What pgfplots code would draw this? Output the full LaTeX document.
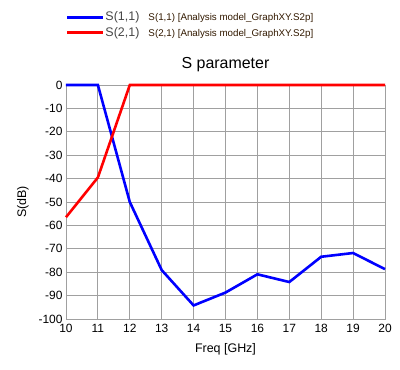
\documentclass[border=0pt]{standalone}
\usepackage{pgfplots}
\pgfplotsset{compat=1.18}
\usepackage{fontspec}
\setmainfont{Liberation Sans}
\definecolor{gridgray}{RGB}{160,160,160}
\definecolor{legtxt}{RGB}{70,70,70}
\definecolor{filetxt}{RGB}{50,25,0}
\begin{document}
\begin{tikzpicture}
\begin{axis}[
  name=ax,
  scale only axis,
  width=319bp, height=234bp,
  xmin=10, xmax=20, ymin=-100, ymax=0,
  xtick={10,...,20},
  ytick={-100,-90,...,0},
  grid=major,
  major grid style={gridgray, line width=0.9bp},
  axis line style={gridgray, line width=0.9bp},
  major tick length=0pt,
  tick label style={font=\fontsize{12}{12}\selectfont, text=black},
  /pgf/number format/assume math mode=true,
  xticklabel style={yshift=-2bp},
  yticklabel style={xshift=0bp},
  xlabel={Freq [GHz]},
  ylabel={S(dB)},
  label style={font=\fontsize{12.5}{13}\selectfont, text=black},
  xlabel style={yshift=-4bp},
  ylabel style={yshift=3bp},
  title={S parameter},
  title style={font=\fontsize{16}{16}\selectfont, yshift=4bp},
  legend style={at={(0,1.315)}, anchor=north west, draw=none, fill=none,
    inner sep=0pt, outer sep=0pt, row sep=4bp,
    nodes={inner sep=0.5bp, anchor=west},
    font=\fontsize{12.5}{12.5}\selectfont},
  legend cell align=left,
  legend image code/.code={\draw[#1, line width=3bp] (0bp,0bp) -- (36bp,0bp);},
  clip=false,
]
\addplot[blue, line width=2.6bp] coordinates {
  (10,0) (11,0) (12,-50) (13,-79.1) (14,-94.2) (15,-88.7) (16,-80.9)
  (17,-84.2) (18,-73.4) (19,-71.8) (20,-78.7)
};
\addlegendentry{\makebox[43bp][l]{\color{legtxt}S(1,1)}{\color{filetxt}\fontsize{9.8}{9.8}\selectfont S(1,1) [Analysis model\_GraphXY.S2p]}}
\addplot[red, line width=2.6bp] coordinates {
  (10,-56.5) (11,-39.5) (12,0) (13,0) (14,0) (15,0) (16,0)
  (17,0) (18,0) (19,0) (20,0)
};
\addlegendentry{\makebox[43bp][l]{\color{legtxt}S(2,1)}{\color{filetxt}\fontsize{9.8}{9.8}\selectfont S(2,1) [Analysis model\_GraphXY.S2p]}}
\end{axis}
\pgfresetboundingbox
\path[use as bounding box] ([shift={(-66bp,-51bp)}]ax.south west) rectangle ([shift={(15bp,85bp)}]ax.north east);
\end{tikzpicture}
\end{document}
